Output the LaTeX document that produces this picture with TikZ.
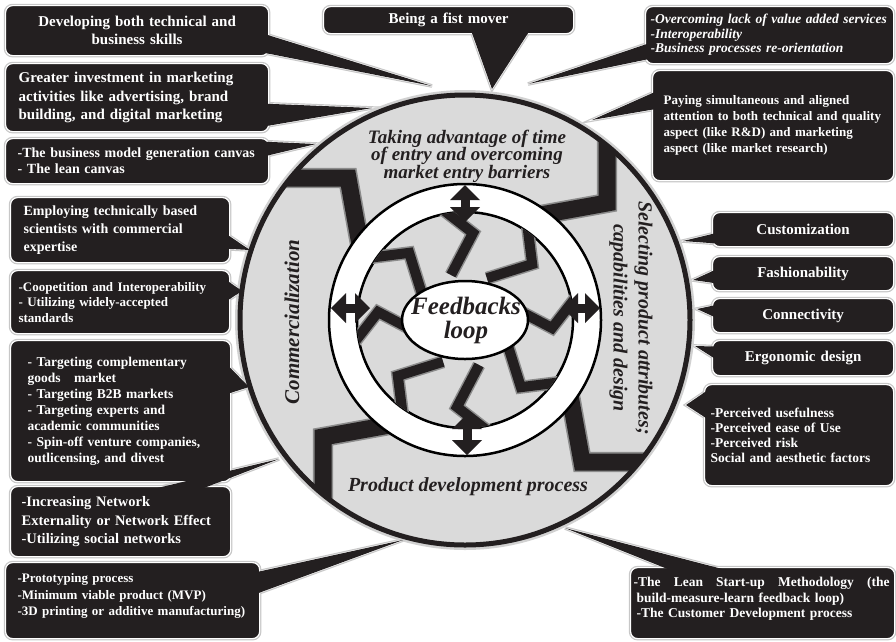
\documentclass[tikz,border=0pt]{standalone}
\usepackage{fontspec}
\setmainfont{Liberation Serif}
\usepackage{tikz}
\usetikzlibrary{arrows.meta,calc,backgrounds}
\usepackage{xcolor}
\definecolor{boxblack}{HTML}{231F20}
\definecolor{ringgray}{HTML}{DADADA}
\newcommand{\txtsize}[2]{\fontsize{#1}{#2}\selectfont}
\tikzset{
  cbox/.style={anchor=north west,fill=boxblack,draw=white,line width=1.2pt,
    rounded corners=7pt,text=white,inner xsep=0pt,inner ysep=0pt,
    preaction={draw=black!22,line width=3.6pt}},
  sidebox/.style={cbox,minimum width=181pt,minimum height=34pt,text width=171pt,
    align=center,font=\bfseries\txtsize{15}{18}},
  ptredge/.style={fill=boxblack,draw=white,line width=1.2pt,
    preaction={draw=black!22,line width=3.6pt}},
  ptrfill/.style={fill=boxblack},
  bigzig/.style={draw=black!45,line width=1.6pt,double=boxblack,double distance=17pt},
  smallzig/.style={draw=black!45,line width=1.5pt,double=boxblack,double distance=10pt},
  dblarrow/.style={{Triangle[length=15pt,width=30pt,line width=0pt]}-{Triangle[length=15pt,width=30pt,line width=0pt]},
    line width=9pt,color=boxblack},
  ringtxt/.style={align=center,text=boxblack},
}
\newcommand{\callptrs}[1]{%
  \path[#1] ($(skills.east)+(-6,3)$) -- ($(skills.east)+(-6,22)$) -- (tSkills) -- cycle;
  \path[#1] ($(first.south)+(22,-5)$) -- ($(first.south)+(82,-5)$) -- (tFirst) -- cycle;
  \path[#1] ($(invest.east)+(-6,6)$) -- ($(invest.east)+(-6,29)$) -- (tInvest) -- cycle;
  \path[#1] ($(canvas.east)+(-6,-19.5)$) -- ($(canvas.east)+(-6,-4.5)$) -- (tCanvas) -- cycle;
  \path[#1] ($(over.west)+(6,7.5)$) -- ($(over.west)+(6,23.5)$) -- (tOver) -- cycle;
  \path[#1] ($(pay.west)+(6,-35)$) -- ($(pay.west)+(6,-17)$) -- (tPay) -- cycle;
  \path[#1] ($(employ.east)+(-6,2.5)$) -- ($(employ.east)+(-6,18.5)$) -- (tEmploy) -- cycle;
  \path[#1] ($(coop.east)+(-6,-23.5)$) -- ($(coop.east)+(-6,0.5)$) -- (tCoop) -- cycle;
  \path[#1] ($(target.east)+(-6,-48.5)$) -- ($(target.east)+(-6,-16.5)$) -- (tTarget) -- cycle;
  \path[#1] ($(net.north)+(20,6)$) -- ($(net.north)+(73,6)$) -- (tNet) -- cycle;
  \path[#1] ($(proto.east)+(-6,-28)$) -- ($(proto.east)+(-6,-6)$) -- (tProto) -- cycle;
  \path[#1] ($(lean.north)+(-85,6)$) -- ($(lean.north)+(-25,6)$) -- (tLean) -- cycle;
  \path[#1] ($(custom.west)+(6,3)$) -- ($(custom.west)+(6,14)$) -- (tCustom) -- cycle;
  \path[#1] ($(fash.west)+(6,-5)$) -- ($(fash.west)+(6,10)$) -- (tFash) -- cycle;
  \path[#1] ($(conn.west)+(6,-11)$) -- ($(conn.west)+(6,3)$) -- (tConn) -- cycle;
  \path[#1] ($(ergo.west)+(6,-11.5)$) -- ($(ergo.west)+(6,2.5)$) -- (tErgo) -- cycle;
  \path[#1] ($(perc.west)+(6,-46.5)$) -- ($(perc.west)+(6,-14.5)$) -- (tPerc) -- cycle;
}

\begin{document}
\begin{tikzpicture}[x=1pt,y=-1pt]
  \useasboundingbox (0,0) rectangle (896,641);
  \coordinate (ctr) at (465,320);
  % cycle of four phases
  \fill[ringgray,preaction={draw=black!18,line width=10pt}] (ctr) circle (225pt);
  \begin{scope}[even odd rule]
    \clip (ctr) circle (225pt) (ctr) circle (136pt);
    \foreach \a in {0,90,180,270}
      \draw[bigzig,shift={(ctr)},rotate=\a] (142,-210) -- (142,-117) -- (70,-104);
  \end{scope}
  \draw[line width=2.5pt,fill=white] (ctr) circle (136pt);
  \draw[line width=2.5pt,fill=ringgray] (ctr) circle (108pt);
  \begin{scope}
    \clip (ctr) circle (108pt);
    \foreach \a in {0,45,...,315}
      \draw[smallzig,shift={(ctr)},rotate=\a] (-28,-115) -- (8,-87) -- (-14,-45);
  \end{scope}
  \draw[line width=2.5pt,fill=white] (ctr) ellipse (63pt and 39pt);
  \draw[line width=5pt,color=boxblack] (ctr) circle (225pt);

  \coordinate (aT1) at (465,185); \coordinate (aT2) at (465,222);
  \coordinate (aB1) at (467,455); \coordinate (aB2) at (467,414);
  \coordinate (aL1) at (331,308); \coordinate (aL2) at (370,308);
  \coordinate (aR1) at (600,308); \coordinate (aR2) at (563,308);
  \draw[dblarrow] (aT1) -- (aT2); \draw[dblarrow] (aB1) -- (aB2);
  \draw[dblarrow] (aL1) -- (aL2); \draw[dblarrow] (aR1) -- (aR2);

  \node[ringtxt,font=\bfseries\itshape\txtsize{19}{17.5}] (taking) at (467,156)
    {Taking advantage of time\\of entry and overcoming\\market entry barriers};
  \node[ringtxt,font=\bfseries\itshape\txtsize{21}{21},rotate=90] (comm) at (292,322) {Commercialization};
  \node[ringtxt,font=\bfseries\itshape\txtsize{20}{25},rotate=-90] (select) at (631,318)
    {Selecting product attributes;\\capabilities and design};
  \node[ringtxt,font=\bfseries\itshape\txtsize{20}{20}] (product) at (468,487) {Product development process};
  \node[ringtxt,font=\bfseries\itshape\txtsize{25}{24}] (feedback) at (466,320) {Feedbacks\\loop};

  \coordinate (tSkills) at (432,86); \coordinate (tFirst) at (492,89); \coordinate (tInvest) at (372,108);
  \coordinate (tCanvas) at (316,144); \coordinate (tOver) at (528,84); \coordinate (tPay) at (592,120);
  \coordinate (tEmploy) at (250,250); \coordinate (tCoop) at (242,291); \coordinate (tTarget) at (249,387);
  \coordinate (tNet) at (279,459); \coordinate (tProto) at (403,540); \coordinate (tLean) at (565,528);
  \coordinate (tCustom) at (683,241); \coordinate (tFash) at (693,280); \coordinate (tConn) at (697,309);
  \coordinate (tErgo) at (695,346); \coordinate (tPerc) at (686,405);

  % callout boxes
  \node[cbox,minimum width=263pt,minimum height=50pt,text width=243pt,align=center,
    font=\bfseries\txtsize{15}{18.5}] (skills) at (5,5) {Developing both technical and\\business skills};
  \node[cbox,minimum width=263pt,minimum height=68pt,text width=237pt,align=left,
    font=\bfseries\txtsize{15}{18.5}] (invest) at (5,63)
    {Greater investment in marketing\\activities like advertising, brand\\building, and digital marketing};
  \node[cbox,minimum width=263pt,minimum height=45pt,text width=239pt,align=left,
    font=\bfseries\txtsize{14}{16}] (canvas) at (5,138) {-The business model generation canvas\\- The lean canvas};
  \node[cbox,minimum width=250pt,minimum height=27pt,text width=240pt,align=center,
    font=\bfseries\txtsize{15}{18}] (first) at (323,6) {Being a fist mover};
  \node[cbox,minimum width=248pt,minimum height=57pt,text width=238pt,align=left,
    font=\bfseries\itshape\txtsize{13.5}{14.5}] (over) at (645,6)
    {-Overcoming lack of value added services\\-Interoperability\\-Business processes re-orientation};
  \node[cbox,minimum width=241pt,minimum height=110pt,text width=219pt,align=left,
    font=\bfseries\txtsize{13}{16}] (pay) at (652,70)
    {Paying simultaneous and aligned\\attention to both technical and quality\\aspect (like R\&D) and marketing\\aspect (like market research)};
  \node[cbox,minimum width=219pt,minimum height=65pt,text width=193pt,align=left,
    font=\bfseries\txtsize{14}{18}] (employ) at (10,197)
    {Employing technically based\\scientists with commercial\\expertise};
  \node[cbox,minimum width=219pt,minimum height=63pt,text width=203pt,align=left,
    font=\bfseries\txtsize{13}{15.5}] (coop) at (10,270)
    {-Coopetition and Interoperability\\- Utilizing widely-accepted\\standards};
  \node[cbox,minimum width=220pt,minimum height=141pt,text width=186pt,align=left,
    font=\bfseries\txtsize{13.5}{16}] (target) at (10,340)
    {- Targeting complementary\\goods\ \ \ market\\- Targeting B2B markets\\- Targeting experts and\\academic communities\\- Spin-off venture companies,\\outlicensing, and divest};
  \node[cbox,minimum width=220pt,minimum height=70pt,text width=198pt,align=left,
    font=\bfseries\txtsize{14.5}{18.5}] (net) at (10,486)
    {-Increasing Network\\Externality or Network Effect\\-Utilizing social networks};
  \node[cbox,minimum width=254pt,minimum height=76pt,text width=230pt,align=left,
    text height=20pt,text depth=56pt,font=\bfseries\txtsize{13}{16.5}] (proto) at (5,562)
    {-Prototyping process\\-Minimum viable product (MVP)\\-3D printing or additive manufacturing)};
  \node[cbox,minimum width=264pt,minimum height=71pt,text width=258pt,align=left,
    text height=19pt,text depth=52pt,font=\bfseries\txtsize{13.5}{15.5}] (lean) at (630,567)
    {\hbox to 256pt{-The\hfill Lean\hfill Start-up\hfill Methodology\hfill (the}\\\hspace*{3pt}build-measure-learn feedback loop)\\\hspace*{3pt}-The Customer Development process};
  \node[sidebox] (custom) at (712,212) {Customization};
  \node[sidebox] (fash) at (712,256) {Fashionability};
  \node[sidebox] (conn) at (712,298) {Connectivity};
  \node[sidebox,minimum height=35pt] (ergo) at (712,340) {Ergonomic design};
  \node[cbox,minimum width=189pt,minimum height=101pt,text width=177pt,align=left,
    font=\bfseries\txtsize{13.5}{15}] (perc) at (704,384)
    {-Perceived usefulness\\-Perceived ease of Use\\-Perceived risk\\Social and aesthetic factors};

  \begin{scope}[on background layer]
    \callptrs{ptredge}
  \end{scope}
  \callptrs{ptrfill}
\end{tikzpicture}
\end{document}
